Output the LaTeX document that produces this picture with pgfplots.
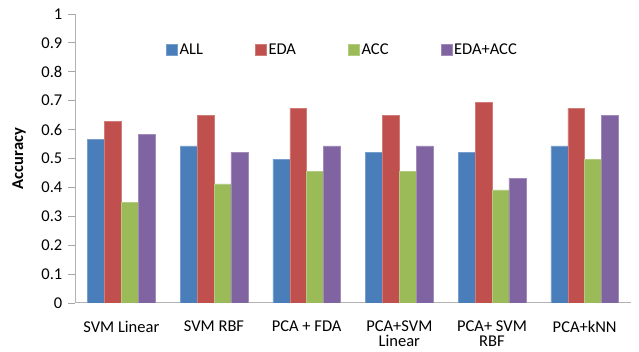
\documentclass[border=0pt]{standalone}
\usepackage{fontspec}
\setmainfont{Carlito}
\usepackage{pgfplots}
\pgfplotsset{compat=1.18}
\definecolor{cAll}{HTML}{4A7EBB}
\definecolor{cEda}{HTML}{C0504D}
\definecolor{cAcc}{HTML}{9BBB59}
\definecolor{cBoth}{HTML}{8064A2}
\begin{document}
\fontsize{16.5}{17}\selectfont
\begin{tikzpicture}[x=1pt,y=1pt]
\path[use as bounding box] (0,0) rectangle (639,352);
\begin{axis}[
  at={(75pt,49pt)}, anchor=south west,
  scale only axis, width=556pt, height=289pt,
  ybar=0pt, bar width=16.9pt,
  xmin=-0.5, xmax=5.5, ymin=0, ymax=1,
  xtick=data,
  xticklabels={SVM Linear, SVM RBF, PCA + FDA, {PCA+SVM\\Linear}, {PCA+ SVM\\RBF}, PCA+kNN},
  xticklabel style={align=center, font=\fontsize{16.5}{15.5}\selectfont, yshift=-5pt},
  x tick style={draw=none},
  ytick={0,0.1,...,1.01},
  yticklabel style={font=\fontsize{16.5}{17}\selectfont},
  /pgf/number format/assume math mode=true,
  yticklabel={\pgfmathprintnumber[fixed,precision=1]{\tick}},
  y tick style={gray!70, line width=0.8pt},
  ytick pos=left, tick align=outside, major tick length=7pt,
  axis x line*=bottom, axis y line*=left,
  axis line style={gray!60, line width=1pt},
  x axis line style={-}, y axis line style={-},
  ylabel={\textbf{Accuracy}},
  ylabel style={font=\fontsize{16.5}{17}\selectfont, at={(axis description cs:-0.1007,0.5)}, anchor=center, rotate=0},
  legend columns=4,
  legend style={draw=none, fill=none, at={(axis description cs:0.481,0.875)}, anchor=center,
    font=\fontsize{16.5}{17}\selectfont, /tikz/every even column/.append style={column sep=50pt}},
  legend image code/.code={\fill[#1] (0pt,-5.5pt) rectangle (11pt,5.5pt);},
]
\addplot[fill=cAll, draw=cAll!75!white, line width=0.5pt] coordinates {(0,0.565) (1,0.544) (2,0.498) (3,0.522) (4,0.522) (5,0.544)};
\addplot[fill=cEda, draw=cEda!75!white, line width=0.5pt] coordinates {(0,0.629) (1,0.650) (2,0.674) (3,0.650) (4,0.695) (5,0.674)};
\addplot[fill=cAcc, draw=cAcc!75!white, line width=0.5pt] coordinates {(0,0.347) (1,0.412) (2,0.456) (3,0.456) (4,0.391) (5,0.498)};
\addplot[fill=cBoth, draw=cBoth!75!white, line width=0.5pt] coordinates {(0,0.584) (1,0.522) (2,0.544) (3,0.544) (4,0.432) (5,0.650)};
\legend{ALL, EDA, ACC, EDA+ACC}
\end{axis}
\end{tikzpicture}
\end{document}
